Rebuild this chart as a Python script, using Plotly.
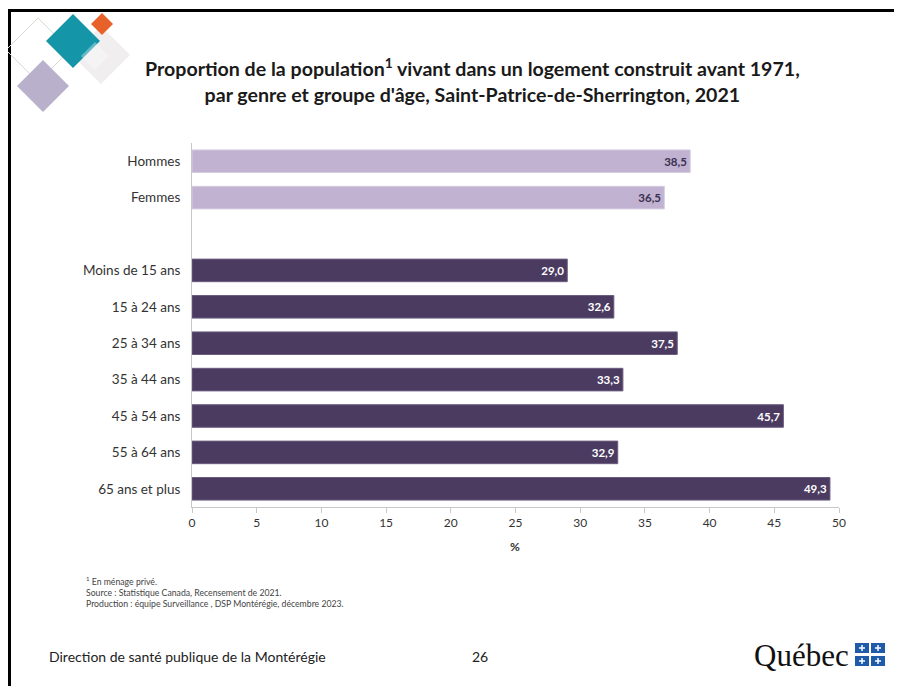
import plotly.graph_objects as go

categories = ["Hommes", "Femmes", " ", "Moins de 15 ans", "15 à 24 ans", "25 à 34 ans",
              "35 à 44 ans", "45 à 54 ans", "55 à 64 ans", "65 ans et plus"]
genre_cats = ["Hommes", "Femmes"]
genre_vals = [38.5, 36.5]
age_cats = ["Moins de 15 ans", "15 à 24 ans", "25 à 34 ans", "35 à 44 ans",
            "45 à 54 ans", "55 à 64 ans", "65 ans et plus"]
age_vals = [29.0, 32.6, 37.5, 33.3, 45.7, 32.9, 49.3]
x_ticks = [0, 5, 10, 15, 20, 25, 30, 35, 40, 45, 50]

# page offset of the figure inside the browser (body margin)
OFF = 8
W, H = 902 - OFF, 686 - OFF
# plot area in screen pixels
L, R, T, B = 192, 839, 143, 507

def fmt(v):
    return f"{v:.1f}".replace(".", ",")

FONT = "Lato"

fig = go.Figure()
fig.add_trace(go.Bar(
    y=genre_cats, x=genre_vals, orientation="h",
    marker=dict(color="#C0B2D0", line=dict(color="#D6CCE0", width=1)),
    text=[fmt(v) for v in genre_vals], textposition="inside", insidetextanchor="end",
    textfont=dict(color="#3C3050", size=11.5, family=FONT, weight="bold"),
    width=0.62, showlegend=False, cliponaxis=False))
fig.add_trace(go.Bar(
    y=age_cats, x=age_vals, orientation="h",
    marker=dict(color="#4B3B61", line=dict(color="#6A5C80", width=1)),
    text=[fmt(v) for v in age_vals], textposition="inside", insidetextanchor="end",
    textfont=dict(color="white", size=11.5, family=FONT, weight="bold"),
    width=0.62, showlegend=False, cliponaxis=False))

def px(x):
    return (x - L) / (R - L)

def py(y):
    return (B - y) / (B - T)

shapes = []
# slide border (left and top)
shapes.append(dict(type="line", xref="paper", yref="paper", x0=px(9.5), x1=px(9.5), y0=py(9), y1=py(700),
                   line=dict(color="black", width=3)))
shapes.append(dict(type="line", xref="paper", yref="paper", x0=px(8), x1=px(910), y0=py(10.5), y1=py(10.5),
                   line=dict(color="black", width=3)))

def diamond(cx, cy, r, fill, line=None, opacity=1.0):
    path = (f"M {px(cx)} {py(cy - r)} L {px(cx + r)} {py(cy)} "
            f"L {px(cx)} {py(cy + r)} L {px(cx - r)} {py(cy)} Z")
    return dict(type="path", xref="paper", yref="paper", path=path,
                fillcolor=fill, opacity=opacity, layer="above",
                line=dict(color=line if line else "rgba(0,0,0,0)", width=1))

# decorative diamonds
shapes.append(diamond(38, 50, 32, "rgba(0,0,0,0)", line="#D5DDD3"))
shapes.append(diamond(43, 86, 26, "#B9B0CC"))
shapes.append(diamond(101, 55, 29, "#F0EEEE"))
shapes.append(diamond(73, 41, 27, "#1596A8"))
shapes.append(diamond(102, 24, 11, "#E8612A"))
shapes.append(diamond(95, 56, 14, "rgba(255,255,255,0.35)"))

# Québec flag squares
flag_blue = "#1F5BA8"
for (x0, y0) in [(855, 643), (871, 643), (855, 656), (871, 656)]:
    shapes.append(dict(type="rect", xref="paper", yref="paper",
                       x0=px(x0), x1=px(x0 + 14), y0=py(y0), y1=py(y0 + 10),
                       fillcolor=flag_blue, line=dict(width=0)))
    shapes.append(dict(type="line", xref="paper", yref="paper",
                       x0=px(x0 + 7), x1=px(x0 + 7), y0=py(y0 + 2), y1=py(y0 + 8),
                       line=dict(color="white", width=1.5)))
    shapes.append(dict(type="line", xref="paper", yref="paper",
                       x0=px(x0 + 4), x1=px(x0 + 10), y0=py(y0 + 5), y1=py(y0 + 5),
                       line=dict(color="white", width=1.5)))

annotations = []
annotations.append(dict(
    xref="paper", yref="paper", x=px(472), y=py(80), xanchor="center", yanchor="middle",
    text="<b>Proportion de la population<sup>1</sup> vivant dans un logement construit avant 1971,<br>"
         "par genre et groupe d'âge, Saint-Patrice-de-Sherrington, 2021</b>",
    showarrow=False, font=dict(family=FONT, size=19.6, color="#1a1a1a"), align="center"))
annotations.append(dict(
    xref="paper", yref="paper", x=px(515), y=py(546), xanchor="center", yanchor="middle",
    text="<b>%</b>", showarrow=False, font=dict(family=FONT, size=12, color="#333")))
annotations.append(dict(
    xref="paper", yref="paper", x=px(84), y=py(592), xanchor="left", yanchor="middle",
    text="<sup>1</sup> En ménage privé.<br>Source : Statistique Canada, Recensement de 2021.<br>"
         "Production : équipe Surveillance , DSP Montérégie, décembre 2023.",
    showarrow=False, align="left", font=dict(family=FONT, size=8.7, color="#444")))
annotations.append(dict(
    xref="paper", yref="paper", x=px(47), y=py(656), xanchor="left", yanchor="middle",
    text="Direction de santé publique de la Montérégie", showarrow=False,
    font=dict(family=FONT, size=14, color="#222")))
annotations.append(dict(
    xref="paper", yref="paper", x=px(480), y=py(656), xanchor="center", yanchor="middle",
    text="26", showarrow=False, font=dict(family=FONT, size=14, color="#222")))
annotations.append(dict(
    xref="paper", yref="paper", x=px(851), y=py(655), xanchor="right", yanchor="middle",
    text="Québec", showarrow=False,
    font=dict(family="Liberation Serif", size=31, color="#111")))

fig.update_layout(
    width=W, height=H,
    margin=dict(l=L - OFF, r=902 - R, t=T - OFF, b=686 - B, autoexpand=False),
    paper_bgcolor="white", plot_bgcolor="white",
    font=dict(family=FONT, size=12, color="#333"),
    xaxis=dict(range=[0, 50], tickvals=x_ticks, ticktext=[str(t) for t in x_ticks],
               showgrid=False, zeroline=False, showline=True, linecolor="#C8C8C8", linewidth=1,
               ticks="outside", ticklen=5, tickcolor="#C8C8C8",
               tickfont=dict(family=FONT, size=12, color="#333")),
    yaxis=dict(type="category", categoryorder="array", categoryarray=categories[::-1],
               range=[-0.5, len(categories) - 0.5],
               showgrid=False, zeroline=False, showline=True, linecolor="#C8C8C8", linewidth=1,
               ticks="", ticklabelstandoff=8,
               tickfont=dict(family=FONT, size=13.5, color="#333")),
    shapes=shapes, annotations=annotations,
)

fig.write_html("out.html")
